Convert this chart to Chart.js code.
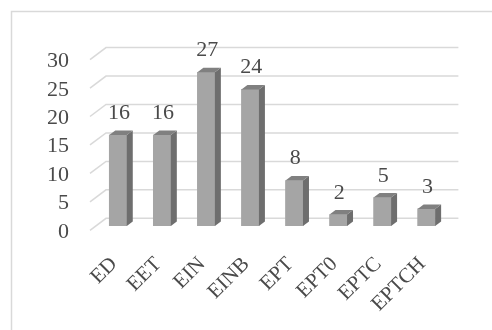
<!DOCTYPE html>
<html>
<head>
<meta charset="utf-8">
<script src="https://cdn.jsdelivr.net/npm/chart.js@4/dist/chart.umd.min.js"></script>
<style>
  html, body { margin: 0; padding: 0; background: #ffffff; }
  #wrap { width: 492px; height: 330px; position: relative; }
</style>
</head>
<body>
<div id="wrap"><canvas id="c" width="492" height="330"></canvas></div>
<script>
// Categories and counts
const categories = ['ED', 'EET', 'EIN', 'EINB', 'EPT', 'EPT0', 'EPTC', 'EPTCH'];
const counts = [16, 16, 27, 24, 8, 2, 5, 3];
const yTicks = [0, 5, 10, 15, 20, 25, 30];

const FONT = '"Liberation Serif", "DejaVu Serif", serif';
const TEXT = '#4a4a4a';

// Pseudo-3D depth of each bar, and of the floor/back wall
const BAR_DX = 6, BAR_DY = 4.5;
const WALL_BACK_DX = 10, WALL_BACK_DY = 7.7;   // back wall relative to bar fronts
const WALL_FRONT_DX = 6, WALL_FRONT_DY = 4.3;  // front floor edge relative to bar fronts

const frame = {
  id: 'frame',
  beforeDraw(chart) {
    const ctx = chart.ctx;
    ctx.save();
    ctx.fillStyle = '#ffffff';
    ctx.fillRect(0, 0, chart.width, chart.height);
    ctx.strokeStyle = '#d9d9d9';
    ctx.lineWidth = 1.5;
    ctx.strokeRect(11.5, 11.5, 700, 700);
    ctx.restore();
  }
};

// Back wall gridlines with the slanted side-wall segment on the left
const wallGrid = {
  id: 'wallGrid',
  beforeDatasetsDraw(chart) {
    const { ctx, chartArea, scales } = chart;
    const y = scales.y;
    ctx.save();
    ctx.strokeStyle = '#d9d9d9';
    ctx.lineWidth = 1.5;
    yTicks.forEach(v => {
      const py = y.getPixelForValue(v);
      const backY = py - WALL_BACK_DY;
      ctx.beginPath();
      ctx.moveTo(chartArea.left - WALL_FRONT_DX, py + WALL_FRONT_DY);
      ctx.lineTo(chartArea.left + WALL_BACK_DX, backY);
      ctx.lineTo(chartArea.right + WALL_BACK_DX, backY);
      ctx.stroke();
    });
    ctx.restore();
  }
};

// Side and top faces of each bar, plus the value label
const bars3d = {
  id: 'bars3d',
  afterDatasetsDraw(chart) {
    const ctx = chart.ctx;
    const meta = chart.getDatasetMeta(0);
    ctx.save();
    meta.data.forEach((bar, i) => {
      const half = bar.width / 2;
      const l = bar.x - half, r = bar.x + half;
      const top = bar.y, base = bar.base;
      // side face
      ctx.fillStyle = '#6e6e6e';
      ctx.beginPath();
      ctx.moveTo(r, base);
      ctx.lineTo(r, top);
      ctx.lineTo(r + BAR_DX, top - BAR_DY);
      ctx.lineTo(r + BAR_DX, base - BAR_DY);
      ctx.closePath();
      ctx.fill();
      // top face
      ctx.fillStyle = '#808080';
      ctx.beginPath();
      ctx.moveTo(l, top);
      ctx.lineTo(r, top);
      ctx.lineTo(r + BAR_DX, top - BAR_DY);
      ctx.lineTo(l + BAR_DX, top - BAR_DY);
      ctx.closePath();
      ctx.fill();
      // value label
      ctx.fillStyle = TEXT;
      ctx.font = '22px ' + FONT;
      ctx.textAlign = 'center';
      ctx.textBaseline = 'alphabetic';
      ctx.fillText(String(counts[i]), bar.x + 1, top - 16);
    });
    ctx.restore();
  }
};

new Chart(document.getElementById('c'), {
  type: 'bar',
  data: {
    labels: categories,
    datasets: [{
      data: counts,
      backgroundColor: '#a5a5a5',
      borderWidth: 0,
      barThickness: 17.5
    }]
  },
  options: {
    responsive: false,
    animation: false,
    devicePixelRatio: 1,
    layout: { padding: { left: 0, right: 43.6, top: 55.3, bottom: 0 } },
    plugins: { legend: { display: false }, tooltip: { enabled: false } },
    scales: {
      x: {
        offset: true,
        grid: { display: false, drawTicks: false },
        border: { display: false },
        ticks: {
          color: TEXT,
          font: { family: FONT, size: 21 },
          minRotation: 45,
          maxRotation: 45,
          padding: 26,
          labelOffset: -4,
          autoSkip: false
        },
        afterFit(s) { s.height = 104; }
      },
      y: {
        min: 0,
        max: 30,
        grid: { display: false, drawTicks: false },
        border: { display: false },
        ticks: {
          stepSize: 5,
          autoSkip: false,
          color: TEXT,
          font: { family: FONT, size: 22 },
          padding: 27,
          labelOffset: 6
        },
        afterFit(s) { s.width = 96; }
      }
    }
  },
  plugins: [frame, wallGrid, bars3d]
});
</script>
</body>
</html>
